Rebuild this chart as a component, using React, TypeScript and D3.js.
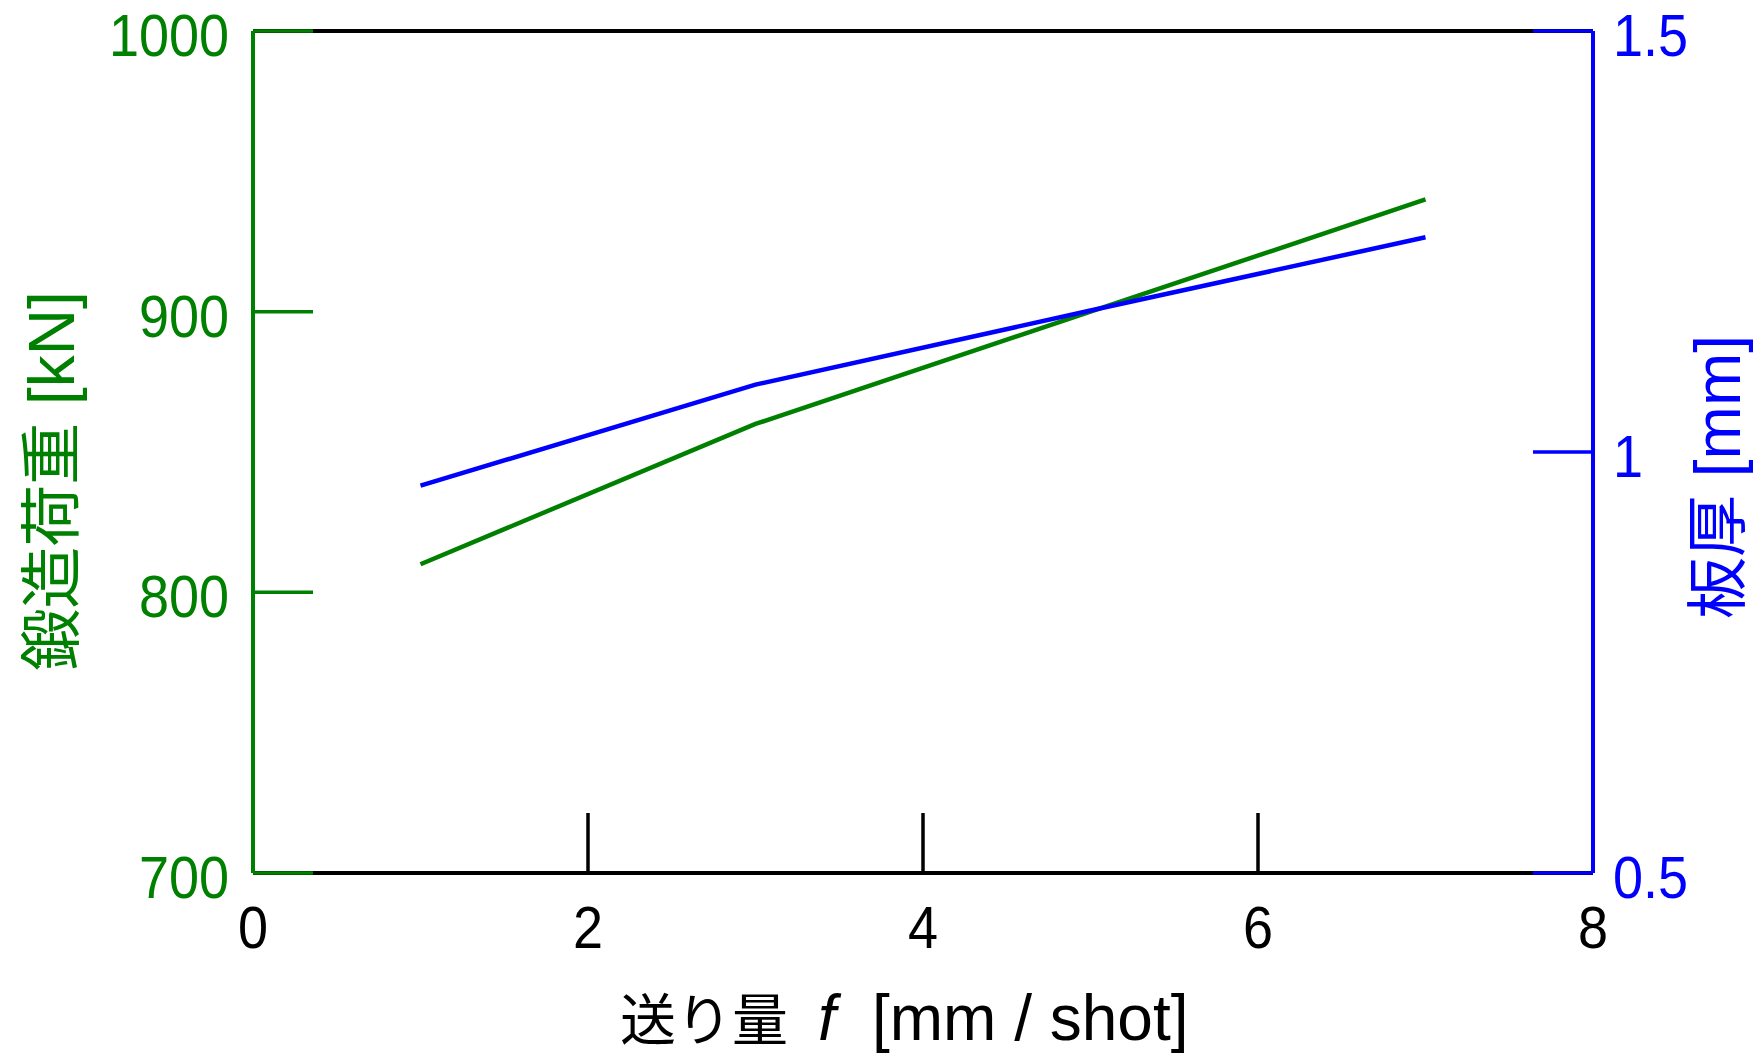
import React from "react";
import * as d3 from "d3";

const feed = [1, 3, 5, 7];
const forgingLoad = [810, 860, 900, 940];
const thickness = [0.96, 1.08, 1.168, 1.255];
const xTicks = [0, 2, 4, 6, 8];
const yLeftTicks = [700, 800, 900, 1000];
const yRightTicks = [0.5, 1, 1.5];

const W = 1757;
const H = 1056;
const L = 253;
const R = 1593;
const T = 31;
const B = 873;
const GREEN = "#008000";
const BLUE = "#0000ff";
const TICK = 60;
const NUMFONT = "'Liberation Sans', Arial, sans-serif";
const LATFONT = "'Liberation Sans', Arial, sans-serif";
const CJKFONT = "'Noto Sans CJK JP', sans-serif";

function Num({ x, y, anchor, fill, children }: any) {
  return (
    <g transform={`translate(${x},${y}) scale(0.9,1)`}>
      <text x={0} y={0} textAnchor={anchor} fontFamily={NUMFONT} fontSize={60} fill={fill}>
        {children}
      </text>
    </g>
  );
}

export default function App() {
  const x = d3.scaleLinear().domain([0, 8]).range([L, R]);
  const yL = d3.scaleLinear().domain([700, 1000]).range([B, T]);
  const yR = d3.scaleLinear().domain([0.5, 1.5]).range([B, T]);

  const loadLine = d3
    .line<number>()
    .x((_, i) => x(feed[i]))
    .y((d) => yL(d))(forgingLoad) as string;
  const thickLine = d3
    .line<number>()
    .x((_, i) => x(feed[i]))
    .y((d) => yR(d))(thickness) as string;

  return (
    <svg
      width={W}
      height={H}
      style={{ position: "absolute", left: 0, top: 0, background: "#fff" }}
    >
      <rect x={0} y={0} width={W} height={H} fill="#fff" />
      <path d={loadLine} fill="none" stroke={GREEN} strokeWidth={4.5} />
      <path d={thickLine} fill="none" stroke={BLUE} strokeWidth={4.5} />

      {/* spines */}
      <line x1={L} x2={R} y1={T} y2={T} stroke="#000" strokeWidth={4} />
      <line x1={L} x2={R} y1={B} y2={B} stroke="#000" strokeWidth={4} />

      {/* x ticks */}
      {xTicks.map((t) => (
        <g key={"xt" + t}>
          {t > 0 && t < 8 && (
            <line x1={x(t)} x2={x(t)} y1={B} y2={B - TICK} stroke="#000" strokeWidth={3.5} />
          )}
          <Num x={x(t)} y={B + 75} anchor="middle" fill="#000">
            {t}
          </Num>
        </g>
      ))}

      {/* left ticks */}
      {yLeftTicks.map((t) => (
        <g key={"yl" + t}>
          <line x1={L} x2={L + TICK} y1={yL(t)} y2={yL(t)} stroke={GREEN} strokeWidth={3.5} />
          <Num x={229} y={yL(t) + 25} anchor="end" fill={GREEN}>
            {t}
          </Num>
        </g>
      ))}

      {/* right ticks */}
      {yRightTicks.map((t) => (
        <g key={"yr" + t}>
          <line x1={R} x2={R - TICK} y1={yR(t)} y2={yR(t)} stroke={BLUE} strokeWidth={3.5} />
          <Num x={1613} y={yR(t) + 25} anchor="start" fill={BLUE}>
            {t}
          </Num>
        </g>
      ))}

      <line x1={L} x2={L} y1={T} y2={B} stroke={GREEN} strokeWidth={4} />
      <line x1={R} x2={R} y1={T} y2={B} stroke={BLUE} strokeWidth={4} />

      {/* x axis label */}
      <text y={1040} fill="#000">
        <tspan x={620} fontFamily={CJKFONT} fontSize={56}>
          送り量
        </tspan>
        <tspan x={818} fontFamily={LATFONT} fontSize={64} fontStyle="italic">
          f
        </tspan>
        <tspan x={872} fontFamily={LATFONT} fontSize={64}>
          [mm / shot]
        </tspan>
      </text>

      {/* left y label */}
      <text
        transform={`translate(74,481) rotate(-90)`}
        textAnchor="middle"
        fill={GREEN}
      >
        <tspan fontFamily={CJKFONT} fontSize={62}>
          鍛造荷重
        </tspan>
        <tspan fontFamily={LATFONT} fontSize={64}>
          {" "}[kN]
        </tspan>
      </text>

      {/* right y label */}
      <text
        transform={`translate(1740,477) rotate(-90)`}
        textAnchor="middle"
        fill={BLUE}
      >
        <tspan fontFamily={CJKFONT} fontSize={62}>
          板厚
        </tspan>
        <tspan fontFamily={LATFONT} fontSize={64}>
          {" "}[mm]
        </tspan>
      </text>
    </svg>
  );
}
